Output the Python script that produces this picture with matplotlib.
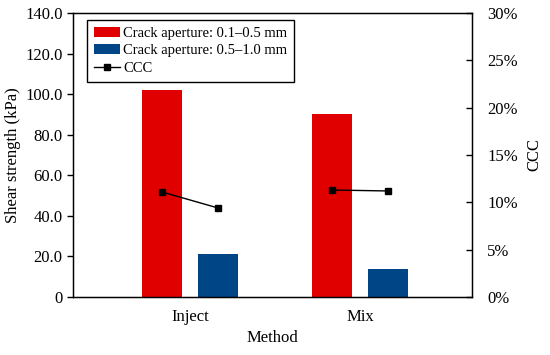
import numpy as np
import matplotlib.pyplot as plt

plt.rcParams['font.family'] = ['Liberation Serif', 'DejaVu Serif']
plt.rcParams['font.size'] = 12

methods = ["Inject", "Mix"]
strength_small = [102.0, 90.0]   # crack aperture 0.1-0.5 mm
strength_large = [21.0, 13.8]    # crack aperture 0.5-1.0 mm
ccc_small = [11.1, 11.3]         # percent
ccc_large = [9.4, 11.2]

x = np.arange(len(methods))
off = 0.166
w = 0.235

fig = plt.figure(figsize=(5.5, 3.55), dpi=100)
ax = fig.add_axes([0.1327, 0.1634, 0.858 - 0.1327, 0.9634 - 0.1634])

b1 = ax.bar(x - off, strength_small, w, color='#E00000', label='Crack aperture: 0.1–0.5 mm')
b2 = ax.bar(x + off, strength_large, w, color='#004586', label='Crack aperture: 0.5–1.0 mm')

ax.set_xlim(-0.688, 1.659)
ax.set_ylim(0, 140)
ax.set_yticks(np.arange(0, 141, 20))
ax.set_yticklabels(['0'] + [f'{v:.1f}' for v in np.arange(20, 141, 20)])
ax.set_xticks(x)
ax.set_xticklabels(methods)
ax.tick_params(axis='x', length=0, pad=9)
ax.tick_params(axis='y', direction='out', length=4, width=1)
ax.set_xlabel('Method', labelpad=3)
ax.set_ylabel('Shear strength (kPa)', labelpad=3)
for s in ax.spines.values():
    s.set_linewidth(1)

ax2 = ax.twinx()
ax2.set_ylim(0, 30)
ax2.set_yticks(np.arange(0, 31, 5))
ax2.set_yticklabels([f'{v}%' for v in range(0, 31, 5)])
ax2.tick_params(axis='y', direction='in', length=4, width=1, pad=11)
ax2.set_ylabel('CCC', labelpad=6)

line = None
for i in range(len(methods)):
    line, = ax2.plot([x[i] - off, x[i] + off], [ccc_small[i], ccc_large[i]],
                     color='black', lw=1, marker='s', ms=5, label='CCC')

leg = ax2.legend(handles=[b1, b2, line], loc='upper left',
                 bbox_to_anchor=(0.035, 0.975), borderaxespad=0,
                 frameon=True, fancybox=False, edgecolor='black', framealpha=1,
                 handlelength=1.85, handletextpad=0.2, labelspacing=0.3,
                 borderpad=0.45, fontsize=10.5)
leg.get_frame().set_linewidth(1)

fig.savefig('out.png', dpi=100)
